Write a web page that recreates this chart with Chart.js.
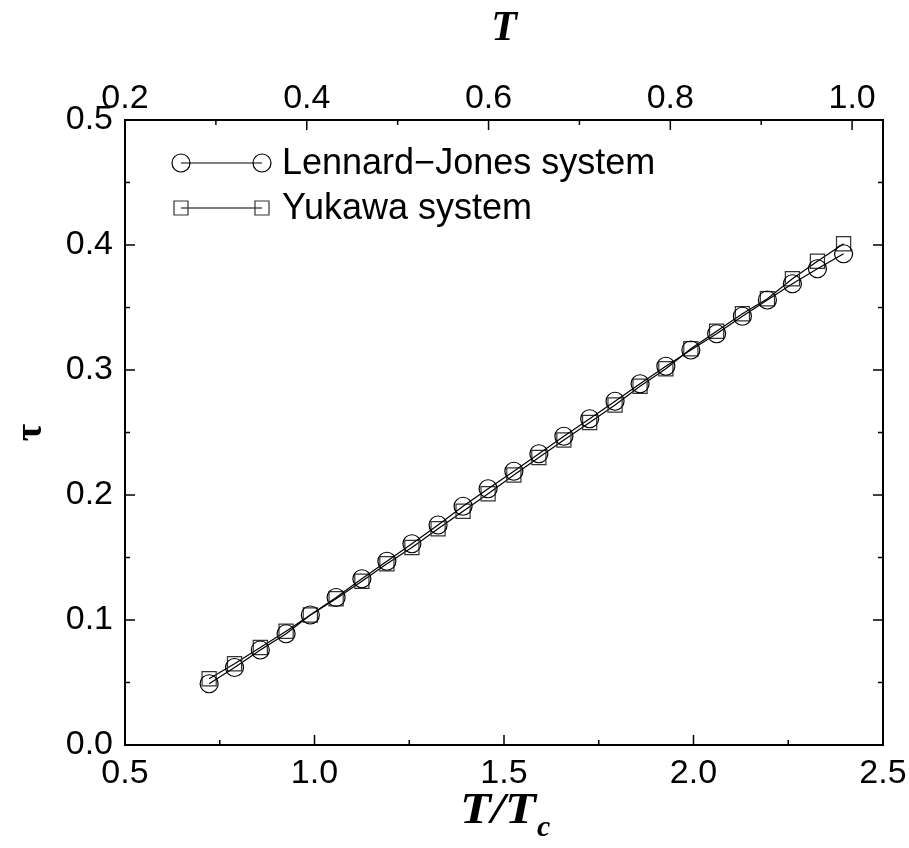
<!DOCTYPE html>
<html>
<head>
<meta charset="utf-8">
<script src="https://cdn.jsdelivr.net/npm/chart.js@4.4.0/dist/chart.umd.min.js"></script>
<style>
  html, body { margin: 0; padding: 0; background: #fff; }
</style>
</head>
<body>
<canvas id="c" width="909" height="848"></canvas>
<script>
// Reduced temperature T/Tc of each state point
const reducedT = [0.722, 0.789, 0.857, 0.925, 0.989, 1.057, 1.125, 1.191, 1.257, 1.326,
                  1.392, 1.458, 1.526, 1.592, 1.658, 1.726, 1.793, 1.859, 1.927, 1.993,
                  2.061, 2.129, 2.195, 2.261, 2.327, 2.396];
// Relaxation time tau, Lennard-Jones system
const tauLJ = [0.049, 0.062, 0.076, 0.089, 0.104, 0.118, 0.133, 0.147, 0.161, 0.176,
               0.191, 0.205, 0.219, 0.233, 0.247, 0.261, 0.275, 0.289, 0.303, 0.316,
               0.329, 0.343, 0.356, 0.369, 0.381, 0.393];
// Relaxation time tau, Yukawa system
const tauYukawa = [0.053, 0.065, 0.078, 0.091, 0.104, 0.117, 0.131, 0.145, 0.158, 0.173,
                   0.187, 0.201, 0.216, 0.230, 0.244, 0.258, 0.272, 0.287, 0.301, 0.317,
                   0.331, 0.345, 0.357, 0.373, 0.387, 0.401];

// Axis ticks
const bottomTicks = [0.5, 1.0, 1.5, 2.0, 2.5];
const bottomMinor = [0.75, 1.25, 1.75, 2.25];
const topTicks = [0.2, 0.4, 0.6, 0.8, 1.0];
const topMinor = [0.3, 0.5, 0.7, 0.9];
const tauTicks = [0.0, 0.1, 0.2, 0.3, 0.4, 0.5];
const tauMinor = [0.05, 0.15, 0.25, 0.35, 0.45];

const seriesNames = ['Lennard\u2212Jones system', 'Yukawa system'];

const SANS = '"Liberation Sans", Arial, Helvetica, sans-serif';
const SERIF = '"Liberation Serif", "Times New Roman", serif';

const toPoints = (xs, ys) => xs.map((x, i) => ({ x: x, y: ys[i] }));
const setTicks = arr => scale => { scale.ticks = arr.map(v => ({ value: v })); };
// fixed axis box size, no extra room for overhanging end labels
const fixHeight = h => s => { s.height = h; s.paddingLeft = 0; s.paddingRight = 0; };
const fixWidth = w => s => { s.width = w; s.paddingTop = 0; s.paddingBottom = 0; };

// Inward tick marks on all four sides of the frame
const tickMarks = {
  id: 'tickMarks',
  afterDraw(chart) {
    const { ctx, chartArea: a, scales } = chart;
    const major = 10, minor = 5;
    ctx.save();
    ctx.strokeStyle = '#000';
    ctx.lineWidth = 1.5;
    const seg = (x1, y1, x2, y2) => { ctx.beginPath(); ctx.moveTo(x1, y1); ctx.lineTo(x2, y2); ctx.stroke(); };
    const xs = scales.x, xt = scales.x2, y = scales.y;
    bottomTicks.forEach(v => { const p = xs.getPixelForValue(v); seg(p, a.bottom, p, a.bottom - major); });
    bottomMinor.forEach(v => { const p = xs.getPixelForValue(v); seg(p, a.bottom, p, a.bottom - minor); });
    topTicks.forEach(v => { const p = xt.getPixelForValue(v); seg(p, a.top, p, a.top + major); });
    topMinor.forEach(v => { const p = xt.getPixelForValue(v); seg(p, a.top, p, a.top + minor); });
    tauTicks.forEach(v => {
      const p = y.getPixelForValue(v);
      seg(a.left, p, a.left + major, p);
      seg(a.right, p, a.right - major, p);
    });
    tauMinor.forEach(v => {
      const p = y.getPixelForValue(v);
      seg(a.left, p, a.left + minor, p);
      seg(a.right, p, a.right - minor, p);
    });
    ctx.restore();
  }
};

// Axis titles: T (top), tau (left), T/Tc (bottom)
const axisTitles = {
  id: 'axisTitles',
  afterDraw(chart) {
    const { ctx, chartArea: a } = chart;
    const cx = (a.left + a.right) / 2;
    ctx.save();
    ctx.fillStyle = '#000';
    ctx.textBaseline = 'alphabetic';
    ctx.textAlign = 'center';
    ctx.font = 'italic bold 42px ' + SERIF;
    ctx.fillText('T', cx, 40);

    // bottom title T/Tc, subscript c
    ctx.save();
    ctx.font = 'italic bold 44px ' + SERIF;
    const stretch = 1.15;
    const w = ctx.measureText('T/T').width * stretch;
    const x0 = cx - 6 - w / 2;
    ctx.translate(x0, 823);
    ctx.scale(stretch, 1);
    ctx.textAlign = 'left';
    ctx.fillText('T/T', 0, 0);
    ctx.restore();
    ctx.font = 'italic bold 30px ' + SERIF;
    ctx.textAlign = 'left';
    ctx.fillText('c', x0 + w + 1, 836);

    // tau, rotated
    ctx.translate(31, (a.top + a.bottom) / 2);
    ctx.rotate(-Math.PI / 2);
    ctx.textAlign = 'center';
    ctx.textBaseline = 'middle';
    ctx.font = 'bold 38px ' + SERIF;
    ctx.fillText('\u03C4', 0, 0);
    ctx.restore();
  }
};

// Legend: marker - line - marker, then label
const frameLegend = {
  id: 'frameLegend',
  afterDraw(chart) {
    const { ctx, chartArea: a } = chart;
    const x1 = a.left + 56, x2 = a.left + 137, tx = a.left + 157;
    const rows = [a.top + 43, a.top + 88];
    ctx.save();
    ctx.lineWidth = 1.2;
    rows.forEach((ry, i) => {
      const ds = chart.data.datasets[i];
      ctx.strokeStyle = '#000';
      ctx.beginPath(); ctx.moveTo(x1, ry); ctx.lineTo(x2, ry); ctx.stroke();
      ctx.strokeStyle = ds.pointBorderColor;
      [x1, x2].forEach(px => {
        ctx.beginPath();
        if (ds.pointStyle === 'circle') {
          ctx.arc(px, ry, 9, 0, Math.PI * 2);
        } else {
          ctx.rect(px - 7, ry - 7, 14, 14);
        }
        ctx.stroke();
      });
      ctx.fillStyle = '#000';
      ctx.font = '36px ' + SANS;
      ctx.textAlign = 'left';
      ctx.textBaseline = 'middle';
      ctx.fillText(seriesNames[i], tx, ry + 1);
    });
    ctx.restore();
  }
};

const tickFont = { family: SANS, size: 34 };

new Chart(document.getElementById('c'), {
  type: 'line',
  data: {
    datasets: [
      {
        label: seriesNames[0],
        data: toPoints(reducedT, tauLJ),
        borderColor: '#000',
        borderWidth: 1.2,
        pointStyle: 'circle',
        pointRadius: 9,
        pointBorderWidth: 1.2,
        pointBorderColor: '#000',
        pointBackgroundColor: 'rgba(0,0,0,0)',
        fill: false,
        tension: 0
      },
      {
        label: seriesNames[1],
        data: toPoints(reducedT, tauYukawa),
        borderColor: '#000',
        borderWidth: 1.2,
        pointStyle: 'rect',
        pointRadius: 10,
        pointBorderWidth: 1.2,
        pointBorderColor: '#333',
        pointBackgroundColor: 'rgba(0,0,0,0)',
        fill: false,
        tension: 0
      }
    ]
  },
  options: {
    responsive: false,
    animation: false,
    devicePixelRatio: 1,
    layout: { padding: 0 },
    plugins: { legend: { display: false }, tooltip: { enabled: false } },
    scales: {
      x: {
        type: 'linear', position: 'bottom', min: 0.5, max: 2.5,
        afterBuildTicks: setTicks(bottomTicks),
        afterFit: fixHeight(103),
        grid: { display: false, drawTicks: false },
        border: { display: true, color: '#000', width: 2 },
        ticks: { color: '#000', font: tickFont, padding: 8, maxRotation: 0, callback: v => v.toFixed(1) }
      },
      x2: {
        type: 'linear', position: 'top', min: 0.2, max: 1.034,
        afterBuildTicks: setTicks(topTicks),
        afterFit: fixHeight(120),
        grid: { display: false, drawTicks: false },
        border: { display: true, color: '#000', width: 2 },
        ticks: { color: '#000', font: tickFont, padding: 1, maxRotation: 0, callback: v => v.toFixed(1) }
      },
      y: {
        type: 'linear', position: 'left', min: 0, max: 0.5,
        afterBuildTicks: setTicks(tauTicks),
        afterFit: fixWidth(125),
        grid: { display: false, drawTicks: false },
        border: { display: true, color: '#000', width: 2 },
        ticks: { color: '#000', font: tickFont, padding: 12, callback: v => v.toFixed(1) }
      },
      y2: {
        type: 'linear', position: 'right', min: 0, max: 0.5,
        afterFit: fixWidth(26),
        grid: { display: false, drawTicks: false },
        border: { display: true, color: '#000', width: 2 },
        ticks: { display: false }
      }
    }
  },
  plugins: [tickMarks, axisTitles, frameLegend]
});
</script>
</body>
</html>
